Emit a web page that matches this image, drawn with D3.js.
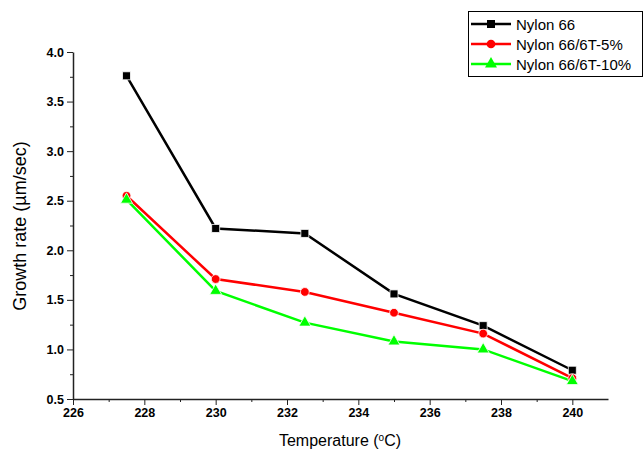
<!DOCTYPE html>
<html lang="en">
<head>
<meta charset="UTF-8">
<title>Growth rate</title>
<script src="https://d3js.org/d3.v7.min.js"></script>
<style>
    body { margin: 0; background: #fff; }
    svg { display: block; font-family: "Liberation Sans", Arial, sans-serif; }
    .tick text { font-weight: bold; font-size: 12.5px; fill: #000; }
    .axis path, .axis line { stroke: #222; }
</style>
</head>
<body>
<svg width="644" height="452"></svg>
<script>
    // data
    var temps = [227.5, 230, 232.5, 235, 237.5, 240];
    var nylon66 = [3.76, 2.22, 2.17, 1.56, 1.24, 0.79];
    var nylon5 = [2.55, 1.71, 1.58, 1.37, 1.16, 0.71];
    var nylon10 = [2.51, 1.59, 1.27, 1.08, 1.00, 0.68];
    var xTicks = [226, 228, 230, 232, 234, 236, 238, 240];
    var yTicks = [0.5, 1.0, 1.5, 2.0, 2.5, 3.0, 3.5, 4.0];

    var series = [
        {name: "Nylon 66", values: nylon66, color: "#000000", symbol: d3.symbolSquare, size: 64},
        {name: "Nylon 66/6T-5%", values: nylon5, color: "#ff0000", symbol: d3.symbolCircle, size: 60},
        {name: "Nylon 66/6T-10%", values: nylon10, color: "#00ff00", symbol: d3.symbolTriangle, size: 62}
    ];

    var svg = d3.select("svg");
    var x = d3.scaleLinear().domain([226, 241]).range([73, 608]);
    var y = d3.scaleLinear().domain([0.5, 4.0]).range([399, 52]);

    // minor ticks
    var xMinor = d3.range(227, 241, 2);
    var yMinor = d3.range(0.75, 4.0, 0.5);

    svg.append("g").attr("class", "axis")
        .attr("transform", "translate(0,399)")
        .call(d3.axisBottom(x).tickValues(xMinor).tickSize(3).tickFormat(""))
        .call(function (g) { g.select(".domain").remove(); });
    svg.append("g").attr("class", "axis")
        .attr("transform", "translate(73,0)")
        .call(d3.axisLeft(y).tickValues(yMinor).tickSize(3).tickFormat(""))
        .call(function (g) { g.select(".domain").remove(); });

    var xAxis = svg.append("g").attr("class", "axis")
        .attr("transform", "translate(0,399)")
        .call(d3.axisBottom(x).tickValues(xTicks).tickSize(6).tickSizeOuter(0).tickPadding(3).tickFormat(d3.format("d")));
    xAxis.select(".domain").attr("stroke-width", 1.5);

    var yAxis = svg.append("g").attr("class", "axis")
        .attr("transform", "translate(73,0)")
        .call(d3.axisLeft(y).tickValues(yTicks).tickSize(6).tickSizeOuter(0).tickPadding(3).tickFormat(d3.format(".1f")));
    yAxis.select(".domain").attr("stroke-width", 1.5);

    // axis titles
    svg.append("text")
        .attr("x", 340).attr("y", 446)
        .attr("text-anchor", "middle")
        .attr("font-size", 16)
        .html('Temperature (<tspan font-size="10" dy="-5">o</tspan><tspan dy="5">C)</tspan>');
    svg.append("text")
        .attr("transform", "translate(26,226) rotate(-90)")
        .attr("text-anchor", "middle")
        .attr("font-size", 18)
        .text("Growth rate (\u00b5m/sec)");

    var line = d3.line()
        .x(function (d, i) { return x(temps[i]); })
        .y(function (d) { return y(d); });

    series.forEach(function (s) {
        svg.append("path")
            .datum(s.values)
            .attr("fill", "none")
            .attr("stroke", s.color)
            .attr("stroke-width", 2.5)
            .attr("d", line);
    });
    series.forEach(function (s) {
        svg.selectAll(null)
            .data(s.values)
            .enter().append("path")
            .attr("transform", function (d, i) { return "translate(" + x(temps[i]) + "," + y(d) + ")"; })
            .attr("d", d3.symbol().type(s.symbol).size(s.size))
            .attr("fill", s.color)
            .attr("stroke", "#fff")
            .attr("stroke-width", 0.8);
    });

    // legend
    var legend = svg.append("g");
    legend.append("rect")
        .attr("x", 468.5).attr("y", 11.5)
        .attr("width", 174).attr("height", 65)
        .attr("fill", "#fff").attr("stroke", "#000").attr("stroke-width", 1);
    series.forEach(function (s, i) {
        var ly = 24 + i * 20;
        legend.append("line")
            .attr("x1", 471).attr("x2", 511)
            .attr("y1", ly).attr("y2", ly)
            .attr("stroke", s.color).attr("stroke-width", 2.5);
        legend.append("path")
            .attr("transform", "translate(491," + ly + ")")
            .attr("d", d3.symbol().type(s.symbol).size(s.size))
            .attr("fill", s.color);
        legend.append("text")
            .attr("x", 516).attr("y", ly + 5.5)
            .attr("font-size", 15)
            .text(s.name);
    });
</script>
</body>
</html>
